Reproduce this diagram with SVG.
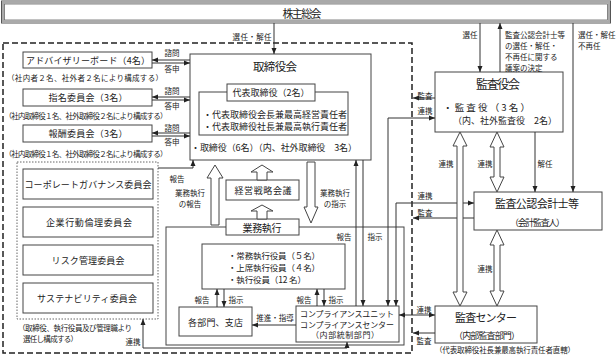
<svg xmlns="http://www.w3.org/2000/svg" width="616" height="356" viewBox="0 0 616 356">
<style>
.b{fill:#fff;stroke:#444;stroke-width:1}
.l{fill:none;stroke:#333;stroke-width:1}
.h{fill:#fff;stroke:#444;stroke-width:1}
text{font-family:"Noto Sans CJK JP","Noto Sans CJK SC",sans-serif;fill:#222;dominant-baseline:central}
.c{text-anchor:middle}
.s{font-size:7.5px}
.m{font-size:9px}
.t{font-size:10px}
.big{font-size:11.5px}
</style>
<defs>
<marker id="ah" viewBox="0 0 6 6" refX="6" refY="3" markerWidth="6" markerHeight="6" markerUnits="userSpaceOnUse" orient="auto-start-reverse"><path d="M0,0.5L6,3L0,5.5z" fill="#222"/></marker>
</defs>
<rect width="616" height="356" fill="#fff"/>

<g id="shareholders">
<rect x="1.5" y="1" width="609" height="22" fill="#fff" stroke="#555" stroke-width="1"/>
<rect x="3" y="2.5" width="606" height="19" fill="none" stroke="#aaa" stroke-width="2"/>
<rect x="4.5" y="4" width="603" height="16" fill="none" stroke="#666" stroke-width="0.8"/>
<text class="c" x="302" y="13" font-size="11" textLength="39" lengthAdjust="spacing">株主総会</text>
</g>

<g id="frame">
<rect x="3" y="43" width="409" height="310" fill="none" stroke="#222" stroke-width="1.5" stroke-dasharray="6,3"/>
</g>

<g id="board">
<rect class="b" x="190" y="54" width="181" height="106"/>
<text class="c big" x="275" y="66" textLength="44" lengthAdjust="spacing">取締役会</text>
<rect class="b" x="199" y="92" width="149" height="43"/>
<rect class="b" x="227" y="84" width="88" height="17"/>
<text class="c m" x="271" y="92.5" textLength="77" lengthAdjust="spacing">代表取締役（2名）</text>
<text class="m" x="203" y="114.5" textLength="144" lengthAdjust="spacing">・代表取締役会長兼最高経営責任者</text>
<text class="m" x="203" y="126" textLength="144" lengthAdjust="spacing">・代表取締役社長兼最高執行責任者</text>
<text class="m" x="191" y="147" textLength="166" lengthAdjust="spacing">・取締役（6名）（内、社外取締役　3名）</text>
</g>

<g id="advisory">
<rect class="b" x="23" y="52" width="129" height="16"/>
<text class="c m" x="88" y="60" textLength="124" lengthAdjust="spacing">アドバイザリーボード（4名）</text>
<text class="c s" x="85" y="77" textLength="156" lengthAdjust="spacing">（社内者２名、社外者２名により構成する）</text>
</g>
<g id="nomination">
<rect class="b" x="23" y="89" width="129" height="17"/>
<text class="c m" x="88" y="97.5" textLength="79" lengthAdjust="spacing">指名委員会（3名）</text>
<text class="c s" x="86" y="115" textLength="163" lengthAdjust="spacing">（社内取締役１名、社外取締役２名により構成する）</text>
</g>
<g id="compensation">
<rect class="b" x="23" y="125" width="129" height="17"/>
<text class="c m" x="88" y="133.5" textLength="79" lengthAdjust="spacing">報酬委員会（3名）</text>
<text class="c s" x="86" y="153" textLength="163" lengthAdjust="spacing">（社内取締役１名、社外取締役２名により構成する）</text>
</g>

<g id="committees">
<rect x="17" y="162" width="141" height="157" fill="none" stroke="#666" stroke-width="1" stroke-dasharray="1.5,1.5"/>
<rect class="b" x="23" y="169" width="130" height="30"/>
<text class="c m" x="88" y="184" textLength="127" lengthAdjust="spacing">コーポレートガバナンス委員会</text>
<rect class="b" x="23" y="207" width="130" height="30"/>
<text class="c m" x="89" y="222" textLength="86" lengthAdjust="spacing">企業行動倫理委員会</text>
<rect class="b" x="23" y="245" width="130" height="30"/>
<text class="c m" x="88" y="260" textLength="73" lengthAdjust="spacing">リスク管理委員会</text>
<rect class="b" x="23" y="283" width="130" height="30"/>
<text class="c m" x="87" y="298" textLength="100" lengthAdjust="spacing">サステナビリティ委員会</text>
<text class="s" x="18" y="327" textLength="114" lengthAdjust="spacing">（取締役、執行役員及び管理職より</text>
<text class="s" x="23" y="338" textLength="55" lengthAdjust="spacing">選任し構成する）</text>
</g>

<g id="execution-area">
<rect x="166" y="227" width="238" height="118" fill="none" stroke="#444" stroke-width="1"/>
</g>

<g id="strategy">
<rect class="b" x="226" y="180" width="73" height="20"/>
<text class="c m" x="263" y="190" textLength="57" lengthAdjust="spacing">経営戦略会議</text>
</g>
<g id="execution">
<rect class="b" x="226" y="219" width="73" height="16"/>
<text class="c t" x="262" y="227.5" textLength="39" lengthAdjust="spacing">業務執行</text>
</g>
<g id="officers">
<rect class="b" x="202" y="244" width="143" height="45"/>
<text x="228" y="255" font-size="8.5" textLength="92" lengthAdjust="spacing">・常務執行役員（５名）</text>
<text x="228" y="267" font-size="8.5" textLength="92" lengthAdjust="spacing">・上席執行役員（４名）</text>
<text x="228" y="279" font-size="8.5" textLength="78" lengthAdjust="spacing">・執行役員（12 名）</text>
</g>
<g id="departments">
<rect class="b" x="179" y="307" width="73" height="29"/>
<text class="c m" x="215.5" y="322" textLength="55" lengthAdjust="spacing">各部門、支店</text>
</g>
<g id="compliance">
<rect class="b" x="296" y="306" width="103" height="36"/>
<text class="c" x="347" y="313.5" font-size="8" textLength="94" lengthAdjust="spacing">コンプライアンスユニット</text>
<text class="c" x="347" y="324" font-size="8" textLength="94" lengthAdjust="spacing">コンプライアンスセンター</text>
<text class="c" x="345" y="334.5" font-size="8" textLength="68" lengthAdjust="spacing">（内部統制部門）</text>
</g>

<g id="auditboard">
<rect class="b" x="435" y="72" width="128" height="60"/>
<text class="c" x="498" y="83" font-size="12" textLength="44" lengthAdjust="spacing">監査役会</text>
<text x="443" y="107" font-size="9.5" textLength="87" lengthAdjust="spacing">・監査役（3名）</text>
<text class="m" x="453" y="120" textLength="104" lengthAdjust="spacing">（内、社外監査役　2名）</text>
</g>
<g id="accountant">
<rect class="b" x="474" y="192" width="128" height="38"/>
<text class="c" x="537" y="203" font-size="11" textLength="84" lengthAdjust="spacing">監査公認会計士等</text>
<text class="c m" x="537.5" y="222" textLength="55" lengthAdjust="spacing">（会計監査人）</text>
</g>
<g id="auditcenter">
<rect class="b" x="435" y="306" width="102" height="37"/>
<text class="c" x="486" y="317" font-size="11" textLength="62" lengthAdjust="spacing">監査センター</text>
<text class="c m" x="487" y="335" textLength="66" lengthAdjust="spacing">（内部監査部門）</text>
<text class="c s" x="505" y="349.5" textLength="140" lengthAdjust="spacing">（代表取締役社長兼最高執行責任者直轄）</text>
</g>

<g id="connectors">
<path class="l" d="M274,23V54" marker-end="url(#ah)"/>
<path class="l" d="M480,23V72" marker-end="url(#ah)"/>
<path class="l" d="M500,72V23" marker-end="url(#ah)"/>
<path class="l" d="M573,23V192" marker-end="url(#ah)"/>
<path class="l" d="M535,132V192" marker-end="url(#ah)"/>
<path class="l" d="M190,60H152" marker-end="url(#ah)"/>
<path class="l" d="M152,63H190" marker-end="url(#ah)"/>
<path class="l" d="M190,97H152" marker-end="url(#ah)"/>
<path class="l" d="M152,100H190" marker-end="url(#ah)"/>
<path class="l" d="M190,133H152" marker-end="url(#ah)"/>
<path class="l" d="M152,136H190" marker-end="url(#ah)"/>
<path class="l" d="M158,168H193V160" marker-end="url(#ah)"/>
<path class="l" d="M143,319V348H347V342" marker-start="url(#ah)" marker-end="url(#ah)"/>
<path class="l" d="M356,306V160" marker-end="url(#ah)"/>
<path class="l" d="M363,160V306" marker-end="url(#ah)"/>
<path class="l" d="M388,306V118H435" marker-start="url(#ah)" marker-end="url(#ah)"/>
<path class="l" d="M435,98H413" marker-end="url(#ah)"/>
<path class="l" d="M396,306V203H474" marker-start="url(#ah)" marker-end="url(#ah)"/>
<path class="l" d="M474,218H413" marker-end="url(#ah)"/>
<path class="l" d="M399,315H435" marker-start="url(#ah)" marker-end="url(#ah)"/>
<path class="l" d="M435,333H413" marker-end="url(#ah)"/>
<path class="l" d="M217,307V289" marker-end="url(#ah)"/>
<path class="l" d="M224,289V307" marker-end="url(#ah)"/>
<path class="l" d="M317,306V289" marker-end="url(#ah)"/>
<path class="l" d="M324,289V306" marker-end="url(#ah)"/>
<path class="l" d="M296,325H252" marker-end="url(#ah)"/>
<polygon class="h" points="215,165 223,178 219,178 219,225 211,225 211,178 207,178"/>
<polygon class="h" points="307,162 315,162 315,207 318,207 311,223 304,207 307,207"/>
<polygon class="h" points="262,165 273,172 267,172 267,180 257,180 257,172 251,172"/>
<polygon class="h" points="262,205 273,211 267,211 267,219 257,219 257,211 251,211"/>
<polygon class="h" points="460,132 467,146 463,146 463,292 467,292 460,306 453,292 457,292 457,146 453,146"/>
<polygon class="h" points="497,132 504,147 500,147 500,177 504,177 497,192 490,177 494,177 494,147 490,147"/>
<polygon class="h" points="497,230 504,245 500,245 500,291 504,291 497,306 490,291 494,291 494,245 490,245"/>
<g class="s">
<text class="c" x="252" y="36" textLength="39" lengthAdjust="spacing">選任・解任</text>
<text class="c" x="470" y="34">選任</text>
<text x="505" y="34">監査公認会計士等</text>
<text x="505" y="45">の選任・解任・</text>
<text x="505" y="56">不再任に関する</text>
<text x="505" y="67">議案の決定</text>
<text x="578" y="34">選任・解任</text>
<text x="578" y="45">不再任</text>
<text class="c" x="172" y="52">諮問</text>
<text class="c" x="172" y="68">答申</text>
<text class="c" x="172" y="90">諮問</text>
<text class="c" x="172" y="105">答申</text>
<text class="c" x="172" y="127">諮問</text>
<text class="c" x="172" y="141">答申</text>
<text class="c" x="177" y="178">報告</text>
<text class="c" x="190" y="192">業務執行</text>
<text class="c" x="190" y="203">の報告</text>
<text class="c" x="335" y="192">業務執行</text>
<text class="c" x="335" y="203">の指示</text>
<text class="c" x="344" y="236">報告</text>
<text class="c" x="375" y="236">指示</text>
<text class="c" x="425" y="95">監査</text>
<text class="c" x="425" y="110">連携</text>
<text class="c" x="425" y="195">連携</text>
<text class="c" x="425" y="212">監査</text>
<text class="c" x="446" y="163">連携</text>
<text class="c" x="485" y="163">連携</text>
<text class="c" x="545" y="163">解任</text>
<text class="c" x="485" y="268">連携</text>
<text class="c" x="424" y="309">連携</text>
<text class="c" x="424" y="340">監査</text>
<text class="c" x="202" y="299">報告</text>
<text class="c" x="236" y="299">指示</text>
<text class="c" x="304" y="299">報告</text>
<text class="c" x="336" y="299">指示</text>
<text class="c" x="275" y="317">推進・指導</text>
<text class="c" x="133" y="341">連携</text>
</g>
</g>
</svg>
